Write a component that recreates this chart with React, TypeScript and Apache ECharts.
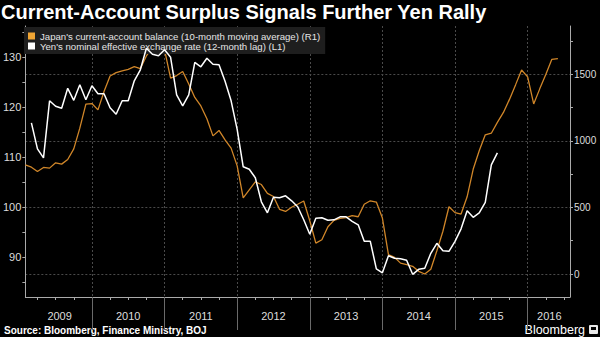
import React, { useEffect, useRef } from "react";
import * as echarts from "echarts";

const FONT = "Liberation Sans, Arial, sans-serif";

// Monthly categories Feb 2009 .. Aug 2016
const months: string[] = [];
for (let y = 2009; y <= 2016; y++) {
  for (let m = 1; m <= 12; m++) {
    if (y === 2009 && m < 2) continue;
    if (y === 2016 && m > 8) continue;
    months.push(`${y}-${String(m).padStart(2, "0")}`);
  }
}

const currentAccount: (number | null)[] = [
  820, 802, 770, 800, 795, 835, 825, 860, 940, 1095,
  1275, 1280, 1232, 1370, 1487, 1512, 1525, 1537, 1557, 1542,
  1637, 1700, 1720, 1682, 1470, 1490, 1520, 1427, 1326, 1262,
  1165, 1037, 1078, 1007, 945, 812, 572, 632, 692, 672,
  606, 582, 486, 470, 501, 524, 548, 400, 232, 257,
  355, 403, 418, 424, 439, 430, 524, 550, 540, 420,
  145, 125, 82, 70, 58, 20, 0, 36, 175, 321,
  505, 461, 450, 580, 786, 925, 1045, 1057, 1138, 1213,
  1311, 1420, 1532, 1480, 1277, 1390, 1498, 1612, 1617, null, null,
];

const yenNeer: (number | null)[] = [
  null, 116.9, 111.7, 109.9, 121.3, 120.2, 119.8, 123.8, 121.4, 124.5,
  121.5, 124.3, 122.7, 122.7, 119.9, 118.6, 121.3, 121.3, 125.3, 127.5,
  131.8, 130.6, 130.3, 131.5, 130.0, 122.5, 120.3, 122.5, 129.0, 128.1,
  129.8, 128.6, 128.5, 125.2, 121.3, 115.6, 108.1, 107.6, 105.9, 101.1,
  98.9, 102.0, 101.9, 102.3, 101.3, 100.1, 97.5, 94.6, 97.8, 97.9,
  97.4, 97.5, 98.1, 98.1, 97.2, 96.5, 93.2, 93.2, 87.7, 86.9,
  90.3, 89.8, 89.7, 89.4, 86.6, 87.6, 87.8, 90.8, 92.8, 91.3,
  91.2, 93.2, 95.7, 99.3, 98.0, 98.9, 101.0, 108.5, 110.9, null,
  null, null, null, null, null, null, null, null, null, null, null,
];

const leftLabels = [90, 100, 110, 120, 130];
const leftTicks = [85, 90, 95, 100, 105, 110, 115, 120, 125, 130, 135];
const rightLabels = [0, 500, 1000, 1500];
const rightTicks = [0, 250, 500, 750, 1000, 1250, 1500, 1750];
const yearLabelMonths = ["2009-07", "2010-07", "2011-07", "2012-07", "2013-07", "2014-07", "2015-07", "2016-04"];

const NAME_CA = "Japan's current-account balance (10-month moving average) (R1)";
const NAME_YEN = "Yen's nominal effective exchange rate (12-month lag) (L1)";

export default function App() {
  const ref = useRef<HTMLDivElement>(null);
  useEffect(() => {
    document.body.style.margin = "0";
    document.body.style.background = "#000";
    if (!ref.current) return;
    const chart = echarts.init(ref.current, null, { renderer: "svg" });
    const isJan = (_i: number, v: string) => v.endsWith("-01");
    const isQuarter = (_i: number, v: string) => /-(01|04|07|10)$/.test(v);
    const yMinL = 82.06, yMaxL = 136.26, yMinR = -172.5, yMaxR = 1862;
    chart.setOption({
      animation: false,
      backgroundColor: "#000",
      textStyle: { fontFamily: FONT },
      title: {
        text: "Current-Account Surplus Signals Further Yen Rally",
        left: 1,
        top: 2,
        padding: 0,
        textStyle: { color: "#fff", fontSize: 20, fontWeight: "bold", fontFamily: FONT },
      },
      legend: {
        data: [NAME_CA, NAME_YEN],
        orient: "vertical",
        left: 24,
        top: 27,
        padding: [4, 5, 3, 4],
        itemGap: 0,
        itemWidth: 7,
        itemHeight: 7,
        icon: "rect",
        backgroundColor: "#1e1e1e",
        z: 3,
        textStyle: { color: "#e6e6e6", fontSize: 9.6, lineHeight: 10, fontFamily: FONT },
      },
      grid: { left: 24, right: 30, top: 26, bottom: 40, containLabel: false },
      xAxis: [
        {
          type: "category",
          data: months,
          boundaryGap: false,
          position: "bottom",
          axisLine: { show: true, onZero: false, lineStyle: { color: "#aaa", width: 1 } },
          axisTick: { show: true, length: 3, interval: isQuarter, lineStyle: { color: "#aaa" } },
          axisLabel: {
            interval: (_i: number, v: string) => yearLabelMonths.includes(v),
            color: "#ddd",
            fontSize: 11,
            margin: 13,
            fontFamily: FONT,
            formatter: (v: string) => {
              const y = v.slice(0, 4);
              if (v === "2009-07") return `{s|${y}}`;
              if (v === "2016-04") return `{t|${y}}`;
              return y;
            },
            rich: {
              s: { padding: [0, 0, 0, 8], color: "#ddd", fontSize: 11, fontFamily: FONT },
              t: { padding: [0, 0, 0, 7], color: "#ddd", fontSize: 11, fontFamily: FONT },
            },
          },
          splitLine: { show: true, interval: isJan, lineStyle: { color: "#4a4a4a", type: [2, 2], width: 1 } },
        },
        {
          type: "category",
          data: months,
          boundaryGap: false,
          position: "bottom",
          axisLine: { show: false, onZero: false },
          axisLabel: { show: false },
          axisTick: { show: true, length: 33, interval: isJan, lineStyle: { color: "#6a6a6a" } },
          splitLine: { show: false },
        },
      ],
      yAxis: [
        {
          type: "value",
          position: "left",
          min: yMinL,
          max: yMaxL,
          axisLine: { show: true, onZero: false, lineStyle: { color: "#aaa" } },
          axisTick: { show: true, length: 3, customValues: leftTicks, lineStyle: { color: "#aaa" } },
          axisLabel: { customValues: leftLabels, color: "#ddd", fontSize: 11, margin: 4, fontFamily: FONT },
          splitLine: { show: false },
        },
        {
          type: "value",
          position: "right",
          min: yMinR,
          max: yMaxR,
          axisLine: { show: true, onZero: false, lineStyle: { color: "#aaa" } },
          axisTick: { show: true, length: 3, customValues: rightTicks, lineStyle: { color: "#aaa" } },
          axisLabel: {
            customValues: rightLabels,
            color: "#ddd",
            fontSize: 10,
            margin: 4,
            fontFamily: FONT,
            formatter: (v: number) => String(Math.round(v)),
          },
          splitLine: { show: false },
        },
        {
          type: "value",
          position: "right",
          min: yMinR,
          max: yMaxR,
          axisLine: { show: false, onZero: false },
          axisTick: { show: false, customValues: rightLabels },
          axisLabel: { show: false },
          splitLine: { show: true, lineStyle: { color: "#4a4a4a", type: [2, 2], width: 1 } },
        },
      ],
      series: [
        {
          type: "line",
          name: NAME_CA,
          data: currentAccount,
          yAxisIndex: 1,
          xAxisIndex: 0,
          symbol: "none",
          z: 1,
          lineStyle: { color: "#d08629", width: 1.3 },
          itemStyle: { color: "#f0a534" },
        },
        {
          type: "line",
          name: NAME_YEN,
          data: yenNeer,
          yAxisIndex: 0,
          xAxisIndex: 0,
          symbol: "none",
          z: 5,
          lineStyle: { color: "#ffffff", width: 1.5 },
          itemStyle: { color: "#ffffff" },
        },
      ],
      graphic: [
        {
          type: "text",
          left: 4,
          top: 325,
          style: { text: "Source: Bloomberg, Finance Ministry, BOJ", fill: "#fff", font: `bold 10px ${FONT}` },
        },
        {
          type: "text",
          right: 15,
          top: 323,
          style: { text: "Bloomberg", fill: "#fff", font: `12.5px ${FONT}` },
        },
        {
          type: "rect",
          right: 2,
          top: 325,
          shape: { width: 9, height: 9, r: 1 },
          style: { fill: "#e8e8e8" },
        },
        {
          type: "rect",
          right: 4,
          top: 327,
          shape: { width: 5, height: 3 },
          style: { fill: "#000" },
        },
      ],
    });
    return () => chart.dispose();
  }, []);
  return (
    <div
      ref={ref}
      style={{ position: "absolute", left: 0, top: 0, width: 600, height: 337, background: "#000" }}
    />
  );
}
